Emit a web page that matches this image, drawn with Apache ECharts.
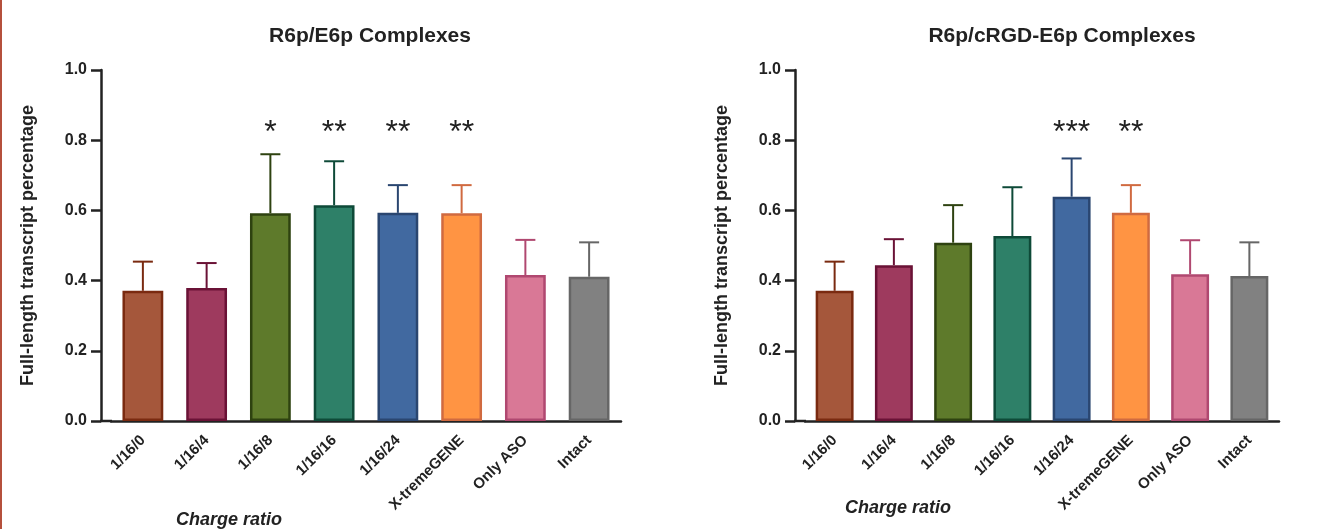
<!DOCTYPE html>
<html>
<head>
<meta charset="utf-8">
<script src="https://cdn.jsdelivr.net/npm/echarts@6/dist/echarts.min.js"></script>
<style>
  html, body { margin: 0; padding: 0; background: #fff; }
  #chart { width: 1323px; height: 529px; }
</style>
</head>
<body>
<div id="chart"></div>
<script>
// categories shared by both panels
const categories = ['1/16/0', '1/16/4', '1/16/8', '1/16/16', '1/16/24', 'X-tremeGENE', 'Only ASO', 'Intact'];

// left panel: R6p/E6p
const leftMeans = [0.371, 0.379, 0.592, 0.615, 0.593, 0.592, 0.416, 0.411];
const leftErrors = [0.083, 0.071, 0.168, 0.125, 0.079, 0.080, 0.100, 0.098];
const leftStars = ['', '', '*', '**', '**', '**', '', ''];

// right panel: R6p/cRGD-E6p
const rightMeans = [0.371, 0.444, 0.508, 0.527, 0.639, 0.593, 0.418, 0.413];
const rightErrors = [0.083, 0.074, 0.107, 0.139, 0.109, 0.079, 0.097, 0.096];
const rightStars = ['', '', '', '', '***', '**', '', ''];

const starLevel = 0.82;

const fills = ['#a5573b', '#9e3a5e', '#5e7a2b', '#2e8068', '#4169a0', '#ff9443', '#d97896', '#818181'];
const borders = ['#7a2a10', '#6a1236', '#2e4210', '#0e4a38', '#2a4670', '#d06a40', '#b04870', '#666666'];

const FONT = 'Arial, "Liberation Sans", sans-serif';
const INK = '#222';

const chart = echarts.init(document.getElementById('chart'));

function makeAxes(idx) {
  const xAxis = {
    type: 'category',
    gridIndex: idx,
    data: categories,
    axisLine: { lineStyle: { color: INK, width: 2.5 } },
    axisTick: { alignWithLabel: true, length: 9, lineStyle: { color: INK, width: 2.5 } },
    axisLabel: { rotate: 45, margin: 17, color: INK, fontFamily: FONT, fontWeight: 'bold', fontSize: 15, interval: 0 }
  };
  const yAxis = {
    type: 'value',
    gridIndex: idx,
    min: 0, max: 1, interval: 0.2,
    offset: 10,
    name: 'Full-length transcript percentage',
    nameLocation: 'middle',
    nameGap: 64,
    nameTextStyle: { color: INK, fontFamily: FONT, fontWeight: 'bold', fontSize: 18 },
    splitLine: { show: false },
    axisLine: { show: true, lineStyle: { color: INK, width: 2.5 } },
    axisTick: { show: true, length: 10, lineStyle: { color: INK, width: 2.5 } },
    axisLabel: {
      color: INK, fontFamily: FONT, fontWeight: 'bold', fontSize: 16, margin: 14,
      formatter: v => v.toFixed(1)
    }
  };
  return { xAxis, yAxis };
}

function makeSeries(idx, means, errors, stars) {
  const bar = {
    type: 'bar',
    xAxisIndex: idx, yAxisIndex: idx,
    barWidth: '64%',
    z: 3,
    data: means.map((v, i) => ({
      value: v,
      itemStyle: { color: fills[i], borderColor: borders[i], borderWidth: 2.5 }
    }))
  };
  const err = {
    type: 'custom',
    xAxisIndex: idx, yAxisIndex: idx,
    z: 2,
    data: means.map((v, i) => [i, v, errors[i]]),
    renderItem: function (params, api) {
      const i = api.value(0);
      const p0 = api.coord([i, api.value(1)]);
      const p1 = api.coord([i, api.value(1) + api.value(2)]);
      const st = { stroke: borders[i], lineWidth: 2 };
      return {
        type: 'group',
        children: [
          { type: 'line', shape: { x1: p0[0], y1: p0[1], x2: p1[0], y2: p1[1] }, style: st },
          { type: 'line', shape: { x1: p1[0] - 10, y1: p1[1], x2: p1[0] + 10, y2: p1[1] }, style: st }
        ]
      };
    }
  };
  const star = {
    type: 'custom',
    xAxisIndex: idx, yAxisIndex: idx,
    z: 4,
    data: stars.map((s, i) => [i, starLevel, s]),
    renderItem: function (params, api) {
      const i = api.value(0);
      const p = api.coord([i, starLevel]);
      return {
        type: 'text',
        x: p[0], y: p[1],
        style: {
          text: stars[i], fill: INK, fontSize: 32, fontFamily: FONT,
          align: 'center', verticalAlign: 'middle'
        }
      };
    }
  };
  return [bar, err, star];
}

const a0 = makeAxes(0);
const a1 = makeAxes(1);

const option = {
  animation: false,
  backgroundColor: '#fff',
  title: [
    { text: 'R6p/E6p Complexes', left: 365, top: 21, textAlign: 'center',
      textStyle: { color: INK, fontFamily: FONT, fontWeight: 'bold', fontSize: 21 } },
    { text: 'R6p/cRGD-E6p Complexes', left: 1057, top: 21, textAlign: 'center',
      textStyle: { color: INK, fontFamily: FONT, fontWeight: 'bold', fontSize: 21 } },
    { text: 'Charge ratio', left: 224, top: 506, textAlign: 'center',
      textStyle: { color: INK, fontFamily: FONT, fontWeight: 'bold', fontStyle: 'italic', fontSize: 18 } },
    { text: 'Charge ratio', left: 893, top: 494, textAlign: 'center',
      textStyle: { color: INK, fontFamily: FONT, fontWeight: 'bold', fontStyle: 'italic', fontSize: 18 } }
  ],
  grid: [
    { left: 111, top: 70, width: 510, height: 351 },
    { left: 805, top: 70, width: 474, height: 351 }
  ],
  xAxis: [a0.xAxis, a1.xAxis],
  yAxis: [a0.yAxis, a1.yAxis],
  graphic: [
    // red page edge on the far left
    { type: 'rect', shape: { x: 0, y: 0, width: 2, height: 529 }, style: { fill: '#b5503c' } },
    // close the small gap between y axis and x axis line
    { type: 'line', shape: { x1: 100, y1: 421, x2: 112, y2: 421 }, style: { stroke: INK, lineWidth: 2.5 } },
    { type: 'line', shape: { x1: 794, y1: 421, x2: 806, y2: 421 }, style: { stroke: INK, lineWidth: 2.5 } }
  ],
  series: [
    ...makeSeries(0, leftMeans, leftErrors, leftStars),
    ...makeSeries(1, rightMeans, rightErrors, rightStars)
  ]
};

chart.setOption(option);
</script>
</body>
</html>
